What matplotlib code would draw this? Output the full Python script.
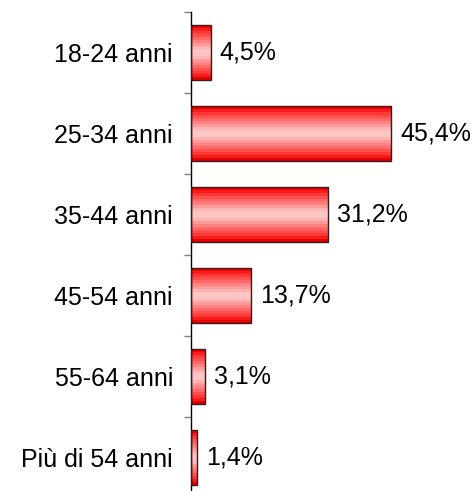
import matplotlib
matplotlib.use("Agg")
import matplotlib.pyplot as plt
from matplotlib.colors import LinearSegmentedColormap
import numpy as np

plt.rcParams['font.family'] = ['Liberation Sans', 'DejaVu Sans']

categories = ['18-24 anni', '25-34 anni', '35-44 anni', '45-54 anni',
              '55-64 anni', 'Più di 54 anni']
values = [4.5, 45.4, 31.2, 13.7, 3.1, 1.4]
labels = ['4,5%', '45,4%', '31,2%', '13,7%', '3,1%', '1,4%']

W, H = 476, 491
fig = plt.figure(figsize=(W / 100, H / 100), dpi=100)
ax = fig.add_axes([191 / W, 1 - 498 / H, 285 / W, 486 / H])

cmap = LinearSegmentedColormap.from_list(
    'bar', [(0.0, '#f00000'), (0.1, '#ff3030'), (0.45, '#ffc4c4'),
            (0.55, '#ffc4c4'), (0.9, '#ff3030'), (1.0, '#e80000')])
grad = np.linspace(0, 1, 18).reshape(-1, 1)

ypos = np.arange(len(categories))
bars = ax.barh(ypos, values, height=0.667, color='none',
               edgecolor='#3a1a1a', linewidth=1.0, zorder=3)
for b in bars:
    x0, y0 = b.get_x(), b.get_y()
    w, h = b.get_width(), b.get_height()
    im = ax.imshow(grad, cmap=cmap, aspect='auto', interpolation='nearest',
                   extent=[x0, x0 + w, y0 + h, y0], zorder=2)
    im.set_clip_path(b)

for y, v, t in zip(ypos, values, labels):
    ax.annotate(t, (v, y), xytext=(6.5, 0), textcoords='offset points',
                va='center', ha='left', fontsize=18)

ax.set_xlim(0, 64.7)
ax.set_ylim(5.5, -0.5)
ax.set_yticks(ypos)
ax.set_yticklabels(categories, fontsize=18)
ax.set_yticks(np.arange(-0.5, 6, 1), minor=True)
ax.tick_params(axis='y', which='major', length=0, pad=13)
ax.tick_params(axis='y', which='minor', length=5, width=1, color='#808080')
ax.set_xticks([])
for s in ['top', 'right', 'bottom']:
    ax.spines[s].set_visible(False)
ax.spines['left'].set_linewidth(1)

fig.savefig('out.png', dpi=100)
